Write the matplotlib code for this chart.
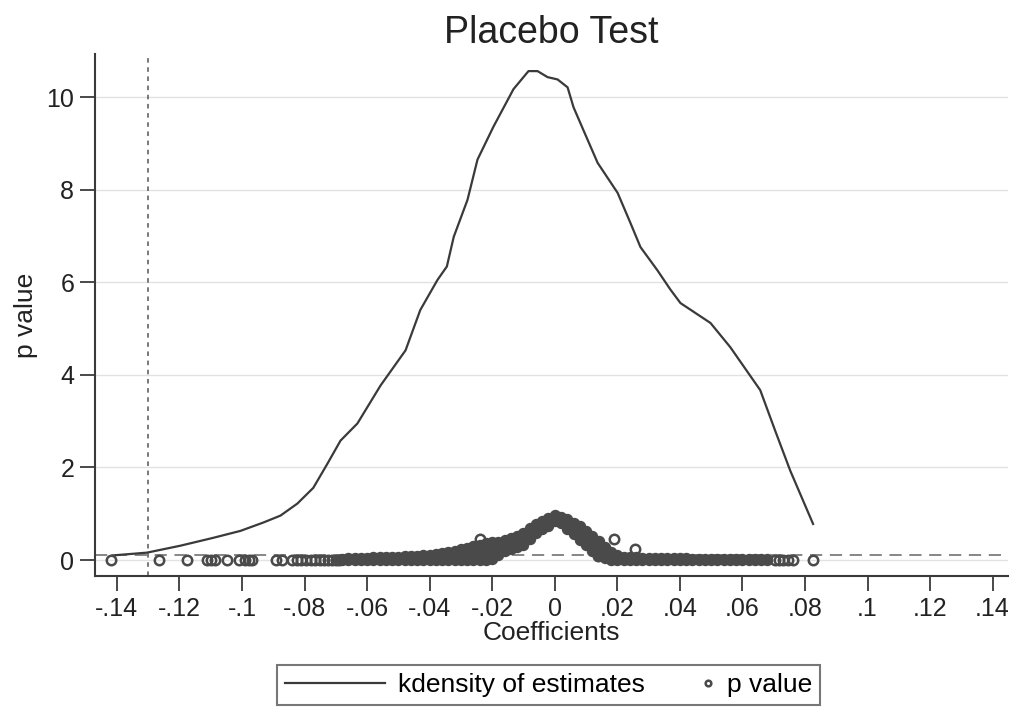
import matplotlib
matplotlib.use("Agg")
import matplotlib.pyplot as plt
from matplotlib.legend_handler import HandlerLine2D

plt.rcParams['font.family'] = ['Liberation Sans', 'DejaVu Sans']

# kernel density of the placebo estimates
kd_x = [-0.1414, -0.1304, -0.1197, -0.1092, -0.1005, -0.0932, -0.0877, -0.0823,
        -0.0772, -0.0727, -0.0685, -0.0631, -0.0557, -0.0477, -0.0430, -0.0375,
        -0.0345, -0.0323, -0.0279, -0.0247, -0.0196, -0.0132, -0.0084, -0.0055,
        -0.0023, 0.0009, 0.0041, 0.0060, 0.0092, 0.0137, 0.0201, 0.0242, 0.0274,
        0.0328, 0.0370, 0.0402, 0.0498, 0.0561, 0.0657, 0.0705, 0.0753, 0.0826]
kd_y = [0.10, 0.16, 0.31, 0.48, 0.63, 0.81, 0.96, 1.22,
        1.56, 2.08, 2.58, 2.95, 3.77, 4.53, 5.40, 6.05,
        6.34, 6.98, 7.78, 8.65, 9.36, 10.17, 10.56, 10.56,
        10.43, 10.38, 10.21, 9.78, 9.28, 8.58, 7.93, 7.28, 6.76,
        6.26, 5.84, 5.55, 5.12, 4.60, 3.67, 2.79, 1.93, 0.78]

# p values: sparse left tail and single outliers
tail_coef = [-0.1418, -0.1265, -0.1175, -0.1112, -0.1098, -0.1085, -0.1048, -0.1010,
             -0.0992, -0.0978, -0.0968, -0.0892, -0.0873, -0.0840, -0.0825, -0.0810,
             -0.0795, -0.0780, -0.0765, -0.0750, -0.0738, -0.0725, -0.0712, -0.0700,
             -0.0690, -0.0240, 0.0139, 0.0191, 0.0255, 0.0705, 0.0718, 0.0730,
             0.0745, 0.0762, 0.0825]
tail_p = [0.0, 0.0, 0.0, 0.0, 0.0, 0.0, 0.0, 0.0,
          0.0, 0.0, 0.0, 0.0, 0.0, 0.0, 0.0, 0.0,
          0.0, 0.0, 0.0, 0.0, 0.0, 0.0, 0.0, 0.0,
          0.0, 0.45, 0.09, 0.45, 0.24, 0.0, 0.0, 0.0,
          0.0, 0.0, 0.0]

# p values: dense band, upper and lower envelope per coefficient
band_coef = [-0.068, -0.066, -0.064, -0.062, -0.060, -0.058, -0.056, -0.054,
             -0.052, -0.050, -0.048, -0.046, -0.044, -0.042, -0.040, -0.038,
             -0.036, -0.034, -0.032, -0.030, -0.028, -0.026, -0.024, -0.022,
             -0.020, -0.018, -0.016, -0.014, -0.012, -0.010, -0.008, -0.006,
             -0.004, -0.002, 0.000, 0.002, 0.004, 0.006, 0.008, 0.010,
             0.012, 0.014, 0.016, 0.018, 0.020, 0.022, 0.024, 0.026,
             0.028, 0.030, 0.032, 0.034, 0.036, 0.038, 0.040, 0.042,
             0.044, 0.046, 0.048, 0.050, 0.052, 0.054, 0.056, 0.058,
             0.060, 0.062, 0.064, 0.066, 0.068]
band_hi = [0.03, 0.04, 0.04, 0.05, 0.05, 0.06, 0.06, 0.06,
           0.07, 0.07, 0.08, 0.09, 0.09, 0.10, 0.11, 0.13,
           0.15, 0.18, 0.20, 0.23, 0.27, 0.30, 0.33, 0.36,
           0.38, 0.40, 0.43, 0.47, 0.52, 0.59, 0.69, 0.77,
           0.84, 0.91, 0.98, 0.94, 0.88, 0.81, 0.73, 0.63,
           0.52, 0.41, 0.29, 0.17, 0.10, 0.07, 0.06, 0.06,
           0.05, 0.05, 0.05, 0.05, 0.04, 0.04, 0.04, 0.04,
           0.03, 0.03, 0.03, 0.03, 0.03, 0.03, 0.03, 0.03,
           0.03, 0.03, 0.03, 0.03, 0.03]
band_lo = [0.0, 0.0, 0.0, 0.0, 0.0, 0.0, 0.0, 0.0,
           0.0, 0.0, 0.0, 0.0, 0.0, 0.0, 0.0, 0.0,
           0.0, 0.0, 0.0, 0.0, 0.0, 0.0, 0.0, 0.0,
           0.03, 0.12, 0.20, 0.24, 0.28, 0.32, 0.45, 0.58,
           0.66, 0.74, 0.85, 0.80, 0.68, 0.56, 0.44, 0.32,
           0.20, 0.10, 0.04, 0.0, 0.0, 0.0, 0.0, 0.0,
           0.0, 0.0, 0.0, 0.0, 0.0, 0.0, 0.0, 0.0,
           0.0, 0.0, 0.0, 0.0, 0.0, 0.0, 0.0, 0.0,
           0.0, 0.0, 0.0, 0.0, 0.0]
mid_coef = [-0.034, -0.032, -0.030, -0.028, -0.026, -0.024, -0.022, -0.020,
            -0.018, -0.016, -0.014, -0.012, -0.010, -0.008, -0.006, -0.004,
            -0.002, 0.000, 0.002, 0.004, 0.006, 0.008, 0.010, 0.012,
            0.014, 0.016]
mid_p = [0.09, 0.10, 0.12, 0.14, 0.16, 0.17, 0.19, 0.21,
         0.27, 0.32, 0.35, 0.40, 0.45, 0.56, 0.67, 0.75,
         0.82, 0.91, 0.86, 0.77, 0.68, 0.58, 0.47, 0.35,
         0.25, 0.16]

true_coef = -0.13
p_cut = 0.1


class RightMarker(HandlerLine2D):
    # put the legend marker near the right end of the handle, as Stata does
    def create_artists(self, legend, orig_handle, xdescent, ydescent, width, height, fontsize, trans):
        arts = super().create_artists(legend, orig_handle, xdescent, ydescent, width, height, fontsize, trans)
        for a in arts:
            a.set_xdata([x + width * 0.5 - 4 for x in a.get_xdata()])
        return arts


dark = '#3a3a3a'
mk = '#4a4a4a'
fig = plt.figure(figsize=(10.14, 7.13), dpi=100)
ax = fig.add_axes([0.0937, 0.1921, 0.9, 0.7322])

ax.grid(axis='y', color='#e2e2e2', linewidth=1.0)
ax.set_axisbelow(True)
ax.axvline(true_coef, color='#555555', linestyle=(0, (3, 3)), linewidth=1.1)
ax.axhline(p_cut, color='#666666', linestyle=(0, (8, 5)), linewidth=1.1)

ax.plot(kd_x, kd_y, color=dark, linewidth=1.6, label='kdensity of estimates')
# overlapping circles in the dense part render as a solid band
ax.plot(band_coef + band_coef + mid_coef, band_hi + band_lo + mid_p, linestyle='none',
        marker='o', markersize=7.2, markerfacecolor=mk, markeredgecolor=mk, markeredgewidth=1.0)
pv, = ax.plot(tail_coef, tail_p, linestyle='none', marker='o', markersize=6.8,
              markerfacecolor='none', markeredgecolor=mk, markeredgewidth=1.8, label='p value')

ax.set_xlim(-0.147, 0.1448)
ax.set_ylim(-0.345, 10.93)
xt = [-0.14, -0.12, -0.1, -0.08, -0.06, -0.04, -0.02, 0, 0.02, 0.04, 0.06, 0.08, 0.1, 0.12, 0.14]
xl = ['-.14', '-.12', '-.1', '-.08', '-.06', '-.04', '-.02', '0', '.02', '.04', '.06', '.08', '.1', '.12', '.14']
ax.set_xticks(xt)
ax.set_xticklabels(xl)
ax.set_yticks([0, 2, 4, 6, 8, 10])
ax.tick_params(axis='both', labelsize=18, length=11, width=1.3, color=dark, labelcolor='#222222', pad=4)

for s in ['top', 'right']:
    ax.spines[s].set_visible(False)
for s in ['left', 'bottom']:
    ax.spines[s].set_color(dark)
    ax.spines[s].set_linewidth(1.5)

ax.set_xlabel('Coefficients', fontsize=19, color='#222222', labelpad=0)
ax.set_ylabel('p value', fontsize=19, color='#222222', labelpad=6)
ax.set_title('Placebo Test', fontsize=27, color='#222222', pad=8)

leg = ax.legend(loc='upper center', bbox_to_anchor=(0.497, -0.171), ncol=2, fontsize=19,
                frameon=True, fancybox=False, edgecolor='#555555', handlelength=3.8,
                handletextpad=0.5, columnspacing=-1.2, borderpad=0.3, borderaxespad=0,
                markerscale=0.6, handler_map={pv: RightMarker()})
leg.get_frame().set_linewidth(1.5)

fig.savefig('out.png', dpi=100)
